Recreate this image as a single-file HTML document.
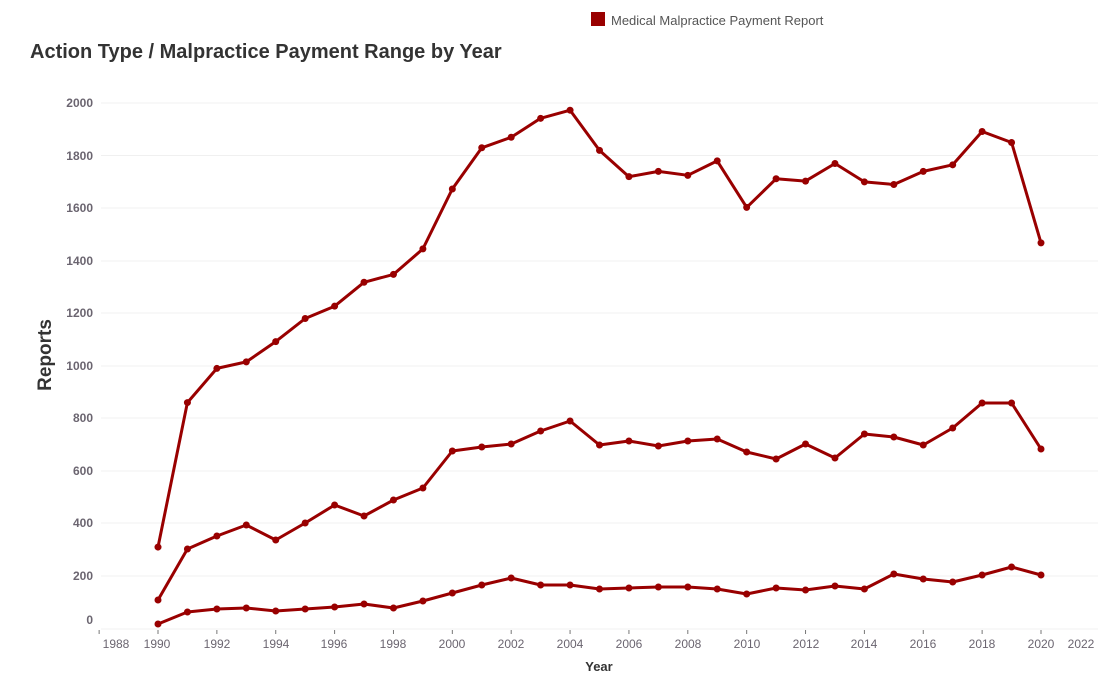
<!DOCTYPE html>
<html><head><meta charset="utf-8"><style>
body{margin:0;background:#fff;width:1120px;height:682px;overflow:hidden;font-family:"Liberation Sans",Arial,sans-serif}
</style></head><body>
<svg width="1120" height="682" xmlns="http://www.w3.org/2000/svg" font-family="Liberation Sans, Arial, sans-serif">
<rect x="591" y="12" width="14" height="14" fill="#990000"/>
<text x="611" y="25" font-size="13" fill="#555">Medical Malpractice Payment Report</text>
<text x="30" y="58" font-size="20" font-weight="bold" fill="#333">Action Type / Malpractice Payment Range by Year</text>
<text transform="translate(51,355) rotate(-90)" font-size="19" font-weight="bold" fill="#333" text-anchor="middle">Reports</text>
<text x="599" y="671" font-size="13" font-weight="bold" fill="#333" text-anchor="middle">Year</text>
<g stroke="#f0f0f0" stroke-width="1">
<line x1="101" x2="1098" y1="103" y2="103"/><line x1="101" x2="1098" y1="155.5" y2="155.5"/><line x1="101" x2="1098" y1="208" y2="208"/><line x1="101" x2="1098" y1="261" y2="261"/><line x1="101" x2="1098" y1="313" y2="313"/><line x1="101" x2="1098" y1="366" y2="366"/><line x1="101" x2="1098" y1="418" y2="418"/><line x1="101" x2="1098" y1="471" y2="471"/><line x1="101" x2="1098" y1="523" y2="523"/><line x1="101" x2="1098" y1="576" y2="576"/>
<line x1="101" x2="1098" y1="629" y2="629"/>
</g>
<g id="ticks" stroke="#777" stroke-width="1"></g>
<g font-size="12" font-weight="bold" fill="#6b6570" text-anchor="end">
<text x="93" y="107">2000</text><text x="93" y="160">1800</text><text x="93" y="212">1600</text><text x="93" y="265">1400</text><text x="93" y="317">1200</text><text x="93" y="370">1000</text><text x="93" y="422">800</text><text x="93" y="475">600</text><text x="93" y="527">400</text><text x="93" y="580">200</text><text x="93" y="624">0</text>
</g>
<g font-size="12" fill="#6b6570" text-anchor="middle">
<text x="116" y="648">1988</text><text x="157" y="648">1990</text><text x="217" y="648">1992</text><text x="276" y="648">1994</text><text x="334" y="648">1996</text><text x="393" y="648">1998</text><text x="452" y="648">2000</text><text x="511" y="648">2002</text><text x="570" y="648">2004</text><text x="629" y="648">2006</text><text x="688" y="648">2008</text><text x="747" y="648">2010</text><text x="806" y="648">2012</text><text x="864" y="648">2014</text><text x="923" y="648">2016</text><text x="982" y="648">2018</text><text x="1041" y="648">2020</text><text x="1081" y="648">2022</text>
</g>
<g id="lines" fill="none" stroke="#990000" stroke-width="3" stroke-linejoin="round"></g>
<g id="dots" fill="#990000"></g>
</svg>
<script>
var top_=[310,860,990,1015,1092,1180,1227,1318,1348,1445,1673,1830,1870,1942,1973,1820,1720,1740,1725,1780,1603,1712,1703,1770,1700,1690,1740,1765,1892,1850,1468];
var mid=[600,549,536,525,540,523,505,516,500,488,451,447,444,431,421,445,441,446,441,439,452,459,444,458,434,437,445,428,403,403,449];
var bot=[624,612,609,608,611,609,607,604,608,601,593,585,578,585,585,589,588,587,587,589,594,588,590,586,589,574,579,582,575,567,575];
var ns="http://www.w3.org/2000/svg";
function X(i){return 158+i*(1041-158)/30;}
var T=document.getElementById('ticks');
for(var k=-1;k<=15;k++){var x=X(2*k);var l=document.createElementNS(ns,'line');l.setAttribute('x1',x);l.setAttribute('x2',x);l.setAttribute('y1',630);l.setAttribute('y2',634);T.appendChild(l);}
var ser=[top_.map(function(v){return 628.5-v*0.2627;}),mid,bot];
var L=document.getElementById('lines'),D=document.getElementById('dots');
ser.forEach(function(s){
 var p=document.createElementNS(ns,'polyline');
 p.setAttribute('points',s.map(function(y,i){return X(i).toFixed(1)+','+y.toFixed(1);}).join(' '));
 L.appendChild(p);
 s.forEach(function(y,i){var c=document.createElementNS(ns,'circle');c.setAttribute('cx',X(i));c.setAttribute('cy',y);c.setAttribute('r',3.5);D.appendChild(c);});
});
</script>
</body></html>
